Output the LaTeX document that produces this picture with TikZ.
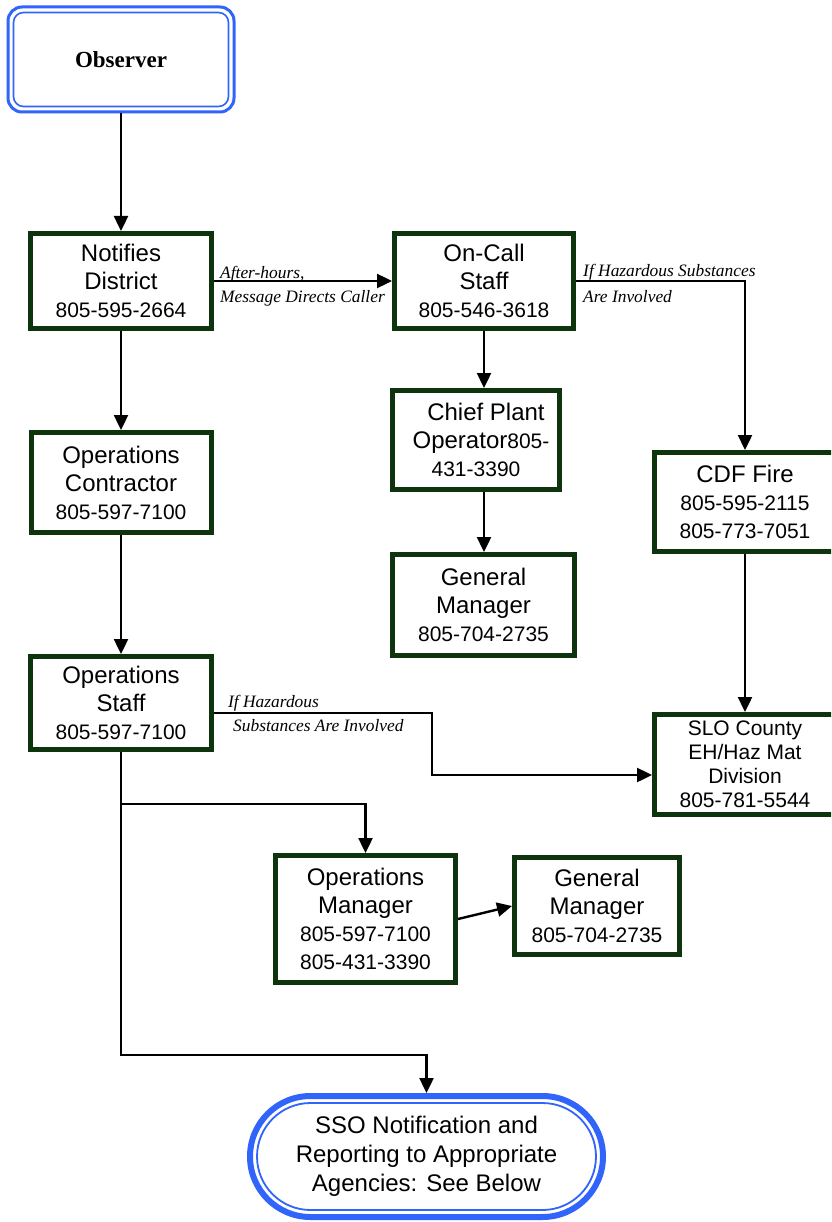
\documentclass[tikz,border=0pt]{standalone}
\usepackage{fontspec}
\setmainfont{Liberation Serif}
\setsansfont{Liberation Sans}
\usetikzlibrary{arrows.meta,shapes.misc}
\definecolor{boxgreen}{RGB}{14,52,14}
\definecolor{termblue}{RGB}{48,100,250}
\newcommand\nmf{\fontsize{24}{28}\selectfont}
\newcommand\phf{\fontsize{21}{24}\selectfont}
\newcommand\lbf{\fontsize{17.4}{20}\selectfont\itshape}
\begin{document}
\begin{tikzpicture}[x=1pt,y=-1pt,
  gbox/.style={draw=boxgreen,line width=5pt,fill=white,inner sep=0pt,align=center,font=\sffamily\nmf},
  conn/.style={line width=2.4pt,-{Triangle[length=15pt,width=14pt]}},
  lbl/.style={inner sep=0pt,anchor=base west,font=\lbf}]
\path[use as bounding box,clip] (0,0) rectangle (831,1222);
\fill[white] (0,0) rectangle (831,1222);

% Observer
\node[draw=termblue,line width=3pt,rounded corners=14pt,minimum width=226pt,minimum height=105pt,inner sep=0pt,font=\fontsize{23}{27}\selectfont\bfseries] (obs) at (121,59.5) {Observer};
\node[draw=termblue,line width=1.6pt,rounded corners=10pt,minimum width=215pt,minimum height=94pt,inner sep=0pt] (obsin) at (121,59.5) {};

% Green boxes
\node[gbox,minimum width=181pt,minimum height=95pt] (notif) at (121,281) {Notifies\\District\\\phf 805-595-2664};
\node[gbox,minimum width=179pt,minimum height=95pt] (oncall) at (484,281) {On-Call\\Staff\\\phf 805-546-3618};
\node[gbox,minimum width=167pt,minimum height=99pt] (chief) at (476,440) {\hspace*{20pt}Chief Plant\\\hspace*{10pt}Operator{\phf 805-}\\\phf 431-3390};
\node[gbox,minimum width=182pt,minimum height=101pt] (gm1) at (483.5,605) {General\\Manager\\\phf 805-704-2735};
\node[gbox,minimum width=181pt,minimum height=99pt] (cdf) at (745,502) {CDF Fire\\\phf 805-595-2115\\\phf 805-773-7051};
\node[gbox,minimum width=180pt,minimum height=100pt] (opc) at (121,482.5) {Operations\\Contractor\\\phf 805-597-7100};
\node[gbox,minimum width=181pt,minimum height=93pt] (ops) at (121,703) {Operations\\Staff\\\phf 805-597-7100};
\node[gbox,minimum width=181pt,minimum height=100pt,font=\sffamily\phf] (slo) at (745,764.5) {SLO County\\EH/Haz Mat\\Division\\805-781-5544};
\node[gbox,minimum width=180pt,minimum height=127pt] (opm) at (365.5,919) {Operations\\Manager\\\phf 805-597-7100\\\phf 805-431-3390};
\node[gbox,minimum width=165pt,minimum height=97pt] (gm2) at (597,906) {General\\Manager\\\phf 805-704-2735};

% SSO terminal
\node[rounded rectangle,draw=termblue,line width=6pt,fill=white,minimum width=353pt,minimum height=121pt,inner sep=0pt] (sso) at (426.5,1156.5) {};
\node[rounded rectangle,draw=termblue,line width=1.8pt,minimum width=339pt,minimum height=107pt,inner sep=0pt,align=center,font=\sffamily\fontsize{24}{29}\selectfont] (ssoin) at (426.5,1156.5) {SSO Notification and\\Reporting to Appropriate\\Agencies: See Below};

% Connectors
\draw[conn] (obs.south) -- (notif.north);
\draw[conn] (notif.east) -- (oncall.west);
\draw[conn] (oncall.east) -| (cdf.north);
\draw[conn] (oncall.south) -- (oncall.south |- chief.north);
\draw[conn] (oncall.south |- chief.south) -- (oncall.south |- gm1.north);
\draw[conn] (notif.south) -- (opc.north);
\draw[conn] (opc.south) -- (ops.north);
\coordinate (hz1) at (432,713);
\coordinate (hz2) at (432,775);
\draw[conn] (ops.east |- hz1) -- (hz1) -- (hz2) -- (slo.west |- hz2);
\draw[conn] (cdf.south) -- (slo.north);
\coordinate (br) at (121,804);
\coordinate (low) at (121,1055);
\draw[conn] (br) -| (opm.north);
\draw[conn] (ops.south) -- (low) -| (sso.north);
\draw[conn] (opm.east) -- (gm2.west);

% Labels
\node[lbl] (l1) at (220,279) {After-hours,};
\node[lbl] (l2) at (220,302) {Message Directs Caller};
\node[lbl] (l3) at (583,277) {If Hazardous Substances};
\node[lbl] (l4) at (583,302) {Are Involved};
\node[lbl] (l5) at (228,707) {If Hazardous};
\node[lbl] (l6) at (233,731) {Substances Are Involved};
\end{tikzpicture}
\end{document}
